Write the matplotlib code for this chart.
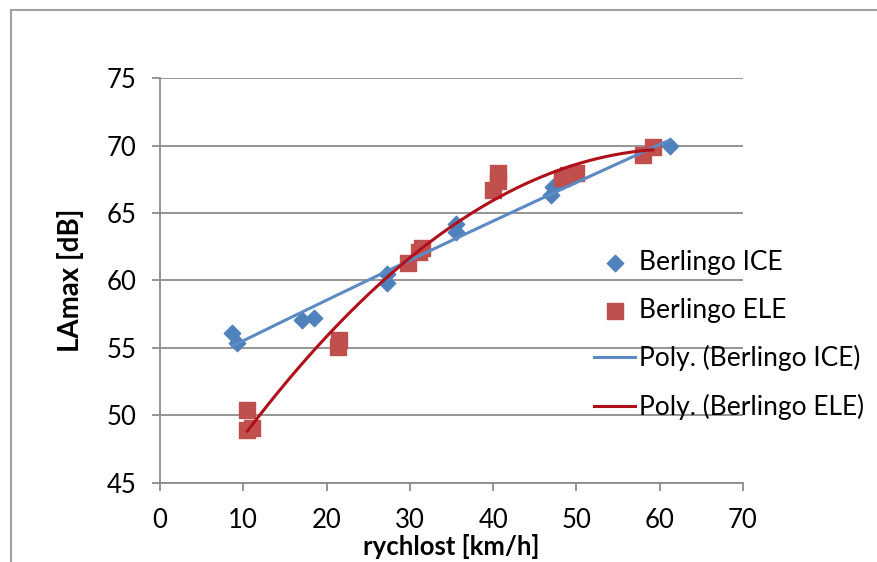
import numpy as np
import matplotlib.pyplot as plt
from matplotlib.patches import Rectangle

plt.rcParams['font.family'] = ['Lato', 'DejaVu Sans']

# Berlingo ICE
ice_v = [8.7, 9.3, 17.0, 18.5, 27.2, 27.2, 35.6, 35.6, 47.0, 47.2, 61.2]
ice_L = [56.1, 55.4, 57.1, 57.2, 60.5, 59.8, 64.2, 63.6, 66.3, 66.9, 70.0]
# Berlingo ELE
ele_v = [10.5, 10.5, 11.1, 21.4, 21.5, 29.8, 31.1, 31.5, 40.0, 40.6, 40.6, 48.3, 49.0, 50.0, 58.0, 59.2]
ele_L = [50.4, 48.9, 49.1, 55.1, 55.6, 61.3, 62.1, 62.4, 66.7, 67.4, 68.0, 67.6, 67.8, 68.0, 69.3, 69.9]

xticks = [0, 10, 20, 30, 40, 50, 60, 70]
yticks = [45, 50, 55, 60, 65, 70, 75]

blue = '#4F81BD'
red = '#C0504D'
grey = '#8c8c8c'

fig = plt.figure(figsize=(8.78, 5.62), dpi=100)
ax = fig.add_axes([0.1822, 0.1406, 0.8462 - 0.1822, 0.8612 - 0.1406])

# outer chart frame
fig.patches.append(Rectangle((0.0125, -0.05), 1.2, 1.032, transform=fig.transFigure,
                             fill=False, edgecolor='#a0a0a0', linewidth=1.5))

ax.scatter(ice_v, ice_L, marker='D', s=70, color=blue, zorder=3, label='Berlingo ICE')
ax.scatter(ele_v, ele_L, marker='s', s=120, color=red, zorder=3, label='Berlingo ELE')

# polynomial (order 2) trendlines
p_ice = np.polyfit(ice_v, ice_L, 2)
xi = np.linspace(min(ice_v), max(ice_v), 200)
ax.plot(xi, np.polyval(p_ice, xi), color='#5B8AC4', lw=2.2, zorder=4, label='Poly. (Berlingo ICE)')
p_ele = np.polyfit(ele_v, ele_L, 2)
xe = np.linspace(min(ele_v), max(ele_v), 200)
ax.plot(xe, np.polyval(p_ele, xe), color='#B0101A', lw=2.2, zorder=4, label='Poly. (Berlingo ELE)')

ax.set_xlim(0, 70)
ax.set_ylim(45, 75)
ax.set_xticks(xticks)
ax.set_yticks(yticks)
ax.grid(axis='y', color=grey, lw=1.3)
ax.set_axisbelow(True)
for s in ['top', 'right']:
    ax.spines[s].set_visible(False)
for s in ['left', 'bottom']:
    ax.spines[s].set_color(grey)
    ax.spines[s].set_linewidth(1.3)
ax.tick_params(colors=grey, labelcolor='black', labelsize=18.5, length=6, width=1.3)
ax.tick_params(axis='y', pad=11)
ax.tick_params(axis='x', pad=12)

ax.set_xlabel('rychlost [km/h]', fontsize=18.5, fontweight='bold', labelpad=1)
ax.set_ylabel('LAmax [dB]', fontsize=20, fontweight='bold', labelpad=16)

h, l = ax.get_legend_handles_labels()
fig.legend(h, l, loc='upper left', bbox_to_anchor=(0.665, 0.574), frameon=False,
           fontsize=19, handlelength=1.55, handletextpad=0.15, labelspacing=0.86,
           scatterpoints=1, borderaxespad=0)

plt.savefig('out.png', dpi=100)
